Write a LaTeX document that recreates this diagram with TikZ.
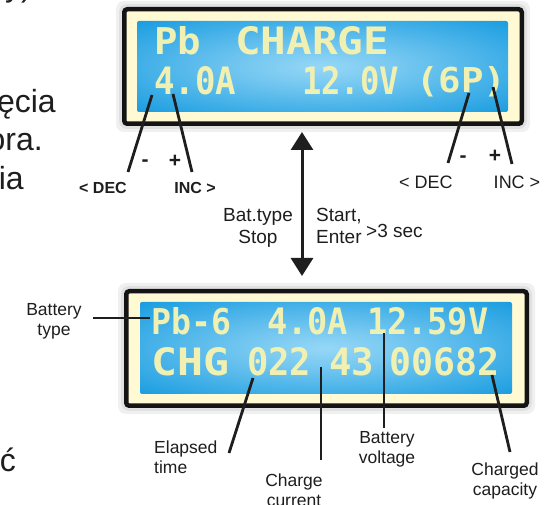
\documentclass[tikz,border=0pt]{standalone}
\usepackage{fontspec}
\setmainfont{Liberation Sans}
\newfontfamily\lcdfont{DejaVu Sans Mono}
\usepackage{graphicx}
\usetikzlibrary{arrows.meta}
\definecolor{lcdblue}{RGB}{24,156,224}
\definecolor{lcdlight}{RGB}{150,215,246}
\definecolor{lcdtext}{RGB}{240,240,178}
\definecolor{cream}{RGB}{255,250,212}
\definecolor{ink}{RGB}{30,30,30}
\pgfdeclareradialshading{lcdglow}{\pgfpoint{0bp}{0bp}}{color(0bp)=(lcdlight); color(10bp)=(lcdlight!75!lcdblue); color(36bp)=(lcdblue); color(50bp)=(lcdblue)}
\newcommand\lcdword[3]{\resizebox{#1pt}{#2pt}{\lcdfont\bfseries #3}}
\tikzset{
  lcdframe/.style={draw=black!92, line width=4.5pt, fill=cream, rounded corners=3pt, inner sep=0pt, outer sep=0pt},
  lcdpanel/.style={shade, shading=lcdglow, rounded corners=2pt, inner sep=0pt, outer sep=0pt},
  lcdshadow/.style={fill=black, opacity=0.06, rounded corners=8pt},
  lcdtxt/.style={anchor=base west, inner sep=0pt, text=lcdtext},
  callout/.style={line width=2.8pt, draw=ink},
  lblbold/.style={inner sep=0pt, font=\fontsize{16}{19}\selectfont\bfseries, text=ink},
  lblreg/.style={inner sep=0pt, font=\fontsize{18}{21}\selectfont, text=ink},
  pm/.style={inner sep=0pt, font=\fontsize{21}{24}\selectfont\bfseries, text=ink},
  midlbl/.style={inner sep=0pt, font=\fontsize{19}{22}\selectfont, text=ink},
  lbl/.style={inner sep=0pt, font=\fontsize{17.5}{20}\selectfont, text=ink},
  bigtxt/.style={anchor=base east, inner sep=0pt, font=\fontsize{32}{38}\selectfont, text=ink}
}
\begin{document}
\begin{tikzpicture}[x=1pt,y=-1pt]
\useasboundingbox (0,0) rectangle (550,505);
\fill[white] (0,0) rectangle (550,505);

% left page text fragments
\node[bigtxt, anchor=base west] (f0) at (5,-3) {y).};
\node[bigtxt] (f1) at (56,113) {ęcia};
\node[bigtxt] (f2) at (43,151) {ora.};
\node[bigtxt] (f3) at (24,190) {ia};
\node[bigtxt] (f4) at (16,472) {ć};

% top LCD
\fill[lcdshadow] (116,1) rectangle (530,132);
\fill[lcdshadow] (119,4) rectangle (527,129);
\node[lcdframe, minimum width=397.5pt, minimum height=114.5pt] (topframe) at (323,66.5) {};
\node[lcdpanel, minimum width=371pt, minimum height=91pt] (toppanel) at (322.5,66.5) {};
\node[lcdtxt] (tPb) at (154,55) {\lcdword{47}{28}{Pb}};
\node[lcdtxt] (tCh) at (235,55) {\lcdword{154}{28}{CHARGE}};
\node[lcdtxt] (tA) at (154,95) {\lcdword{82}{28}{4.0A}};
\node[lcdtxt] (tV) at (302,95) {\lcdword{97}{28}{12.0V}};
\node[lcdtxt] (tP) at (416,93) {\lcdword{90}{26}{(6P)}};

% bottom LCD
\fill[lcdshadow] (118,283) rectangle (535,414);
\fill[lcdshadow] (121,286) rectangle (532,411);
\node[lcdframe, minimum width=400.5pt, minimum height=114.5pt] (botframe) at (326.5,348.5) {};
\node[lcdpanel, minimum width=372pt, minimum height=92pt] (botpanel) at (326,348) {};
\node[lcdtxt] (bPb) at (151,335) {\lcdword{80}{27}{Pb-6}};
\node[lcdtxt] (bA) at (267,335) {\lcdword{81}{27}{4.0A}};
\node[lcdtxt] (bV) at (367,335) {\lcdword{121}{27}{12.59V}};
\node[lcdtxt] (bCHG) at (151,376) {\lcdword{78}{28}{CHG}};
\node[lcdtxt] (bT1) at (247,376) {\lcdword{64}{28}{022}};
\node[lcdtxt] (bT2) at (329,376) {\lcdword{45}{28}{43}};
\node[lcdtxt] (bCap) at (389,376) {\lcdword{110}{28}{00682}};

% top-left DEC / INC
\coordinate (dA1) at (152,95); \coordinate (dA2) at (128,172);
\coordinate (iA1) at (173,94); \coordinate (iA2) at (192,172);
\draw[callout] (dA1) -- (dA2);
\draw[callout] (iA1) -- (iA2);
\node[pm] (mA) at (145,163) {-};
\node[pm] (pA) at (175,161) {+};
\node[lblbold] (decA) at (103,188) {< DEC};
\node[lblbold] (incA) at (195,188) {INC >};

% top-right DEC / INC
\coordinate (dB1) at (469,93); \coordinate (dB2) at (448,163);
\coordinate (iB1) at (493,87); \coordinate (iB2) at (512,164);
\draw[callout] (dB1) -- (dB2);
\draw[callout] (iB1) -- (iB2);
\node[pm] (mB) at (463,159) {-};
\node[pm] (pB) at (495,156) {+};
\node[lblreg] (decB) at (426,182) {< DEC};
\node[lblreg] (incB) at (517,182) {INC >};

% double arrow
\coordinate (arrT) at (302,132);
\coordinate (arrB) at (302,276);
\draw[line width=3pt, draw=ink, {Triangle[width=22pt,length=18pt]}-{Triangle[width=22pt,length=18pt]}] (arrT) -- (arrB);
\node[midlbl, align=center] (bat) at (258,228) {Bat.type\\Stop};
\node[midlbl, align=left, anchor=west] (start) at (316,226) {Start,\\Enter};
\node[midlbl, anchor=west] (three) at (366,231) {>3 sec};

% bottom callouts
\coordinate (bt1) at (93,318); \coordinate (bt2) at (150,318);
\draw[callout] (bt1) -- (bt2);
\node[lbl, align=center] (btype) at (54,321) {Battery\\type};

\coordinate (el1) at (253,378); \coordinate (el2) at (229,453);
\draw[callout] (el1) -- (el2);
\node[lbl, align=left, anchor=west] (elap) at (154,457) {Elapsed\\time};

\coordinate (cc1) at (321,367); \coordinate (cc2) at (321,460);
\draw[callout] (cc1) -- (cc2);
\node[lbl, align=center] (ccur) at (294,490) {Charge\\current};

\coordinate (bv1) at (384,333); \coordinate (bv2) at (384,428);
\draw[callout] (bv1) -- (bv2);
\node[lbl, align=center] (bvolt) at (387,449) {Battery\\voltage};

\coordinate (cp1) at (492,375); \coordinate (cp2) at (510,452);
\draw[callout] (cp1) -- (cp2);
\node[lbl, align=center] (ccap) at (505,481) {Charged\\capacity};
\end{tikzpicture}
\end{document}
